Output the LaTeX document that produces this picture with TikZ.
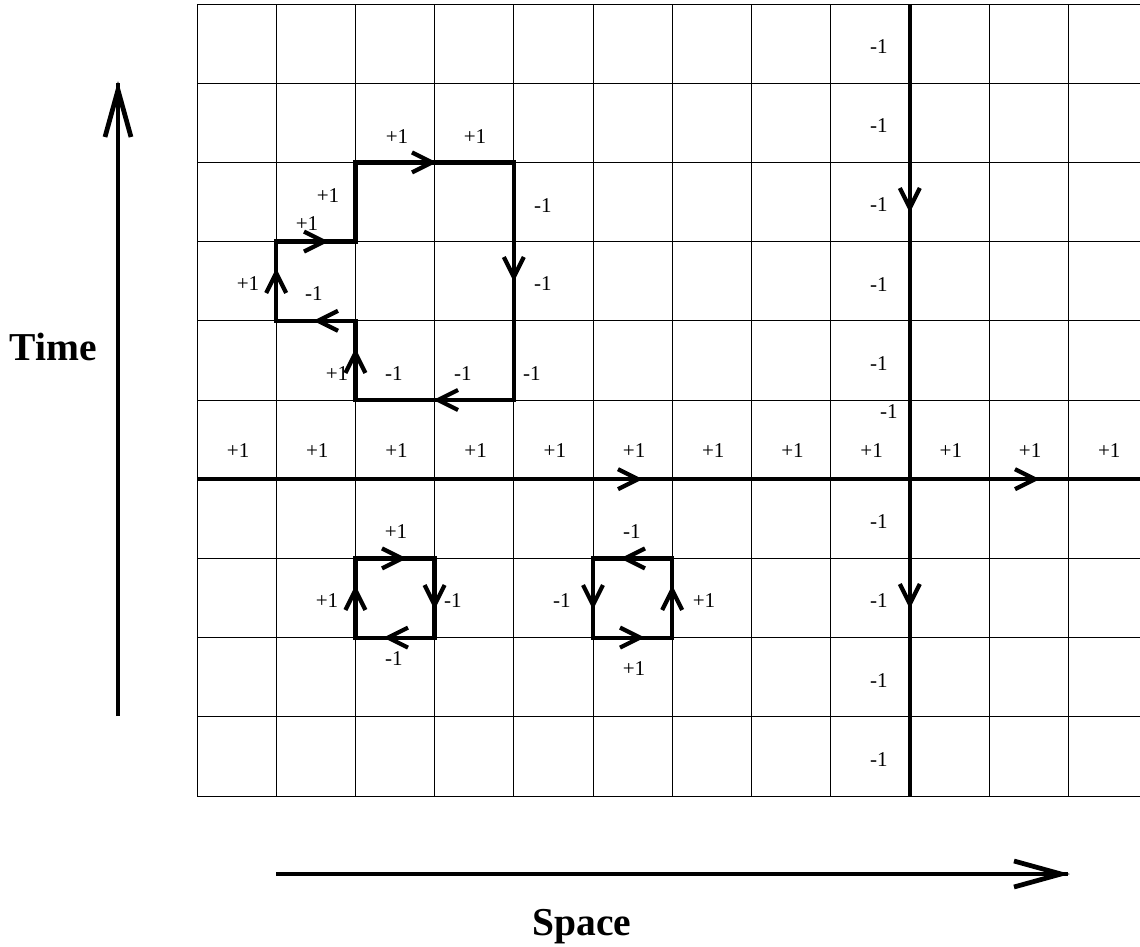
\documentclass[tikz,border=0pt]{standalone}
\usepackage{fontspec}
\setmainfont{Liberation Serif}
\begin{document}
\begin{tikzpicture}[x=0.02cm,y=-0.02cm,
  gridline/.style={line width=0.55pt},
  thickline/.style={line width=2.4pt, line join=miter},
  axisline/.style={line width=2.7pt, line join=miter},
  lbl/.style={font=\fontsize{12}{14}\selectfont, inner sep=0pt, anchor=center},
  title/.style={font=\fontsize{22.5}{26}\selectfont\bfseries, inner sep=0pt, anchor=base},
  chev/.pic={\draw[thickline] (-23,-10) -- (-3,0) -- (-23,10);},
  bigchev/.pic={\draw[axisline] (-54,-13) -- (-7,0) -- (-54,13);}
]
\useasboundingbox (0,0) rectangle (1140,947);
% grid corner coordinates
\foreach \c in {0,...,11}
  \foreach \r in {0,...,10}
    \coordinate (g\c-\r) at ({197+79.2*\c},{4+79.2*\r});
\foreach \r in {0,...,10}
  \coordinate (e\r) at (1140,{4+79.2*\r});
% grid
\foreach \c in {0,...,11}
  \draw[gridline] (g\c-0) -- (g\c-10);
\foreach \r in {0,...,10}
  \draw[gridline] (g0-\r) -- (e\r);
% thick lines
\draw[thickline] (g0-6) -- (e6);
\draw[thickline] (g9-0) -- (g9-10);
\pic at (641,479.2) {chev};
\pic at (1038,479.2) {chev};
\pic[rotate=-90] at (909.8,211) {chev};
\pic[rotate=-90] at (909.8,607) {chev};
% big loop
\draw[thickline] (g1-3) -- (g2-3) -- (g2-2) -- (g4-2) -- (g4-5) -- (g2-5) -- (g2-4) -- (g1-4) -- cycle;
\pic at (327,241.6) {chev};
\pic at (435,162.4) {chev};
\pic[rotate=-90] at (513.8,280) {chev};
\pic[rotate=180] at (435,400) {chev};
\pic[rotate=90] at (355.4,350) {chev};
\pic[rotate=180] at (315,320.8) {chev};
\pic[rotate=90] at (276.2,270) {chev};
% small loops
\draw[thickline] (g2-7) rectangle (g3-8);
\pic at (405,558.4) {chev};
\pic[rotate=-90] at (434.6,608) {chev};
\pic[rotate=180] at (385,637.6) {chev};
\pic[rotate=90] at (355.4,587) {chev};
\draw[thickline] (g5-7) rectangle (g6-8);
\pic[rotate=180] at (622,558.4) {chev};
\pic[rotate=-90] at (593,608) {chev};
\pic at (643,637.6) {chev};
\pic[rotate=90] at (672.2,587) {chev};
% column labels
\foreach \r in {0,...,4,6,7,8,9}
  \node[lbl] (m\r) at (879,{4+79.2*\r+39.6+3}) {-1};
\node[lbl] (mx) at (889,412) {-1};
\foreach \c in {0,...,11}
  \node[lbl] (p\c) at ({197+79.2*\c+39.6+1.5},451) {+1};
% big loop labels
\node[lbl] (b1) at (397,137) {+1};
\node[lbl] (b2) at (475,137) {+1};
\node[lbl] (b3) at (328,196) {+1};
\node[lbl] (b4) at (307,224) {+1};
\node[lbl] (b5) at (543,206) {-1};
\node[lbl] (b6) at (248,284) {+1};
\node[lbl] (b7) at (314,294) {-1};
\node[lbl] (b8) at (543,284) {-1};
\node[lbl] (b9) at (337,374) {+1};
\node[lbl] (b10) at (394,374) {-1};
\node[lbl] (b11) at (463,374) {-1};
\node[lbl] (b12) at (532,374) {-1};
% small loop labels
\node[lbl] (s1) at (396,532) {+1};
\node[lbl] (s2) at (327,601) {+1};
\node[lbl] (s3) at (453,601) {-1};
\node[lbl] (s4) at (394,659) {-1};
\node[lbl] (t1) at (632,532) {-1};
\node[lbl] (t2) at (562,601) {-1};
\node[lbl] (t3) at (704,601) {+1};
\node[lbl] (t4) at (634,669) {+1};
% axes
\coordinate (tb) at (118,716);
\coordinate (tt) at (118,83);
\draw[axisline] (tb) -- (tt);
\pic[rotate=90] at (tt) {bigchev};
\coordinate (sl) at (276,874);
\coordinate (sr) at (1068,874);
\draw[axisline] (sl) -- (sr);
\pic at (sr) {bigchev};
\node[title] (time) at (53,360) {Time};
\node[title] (space) at (582,935) {Space};
\end{tikzpicture}
\end{document}
